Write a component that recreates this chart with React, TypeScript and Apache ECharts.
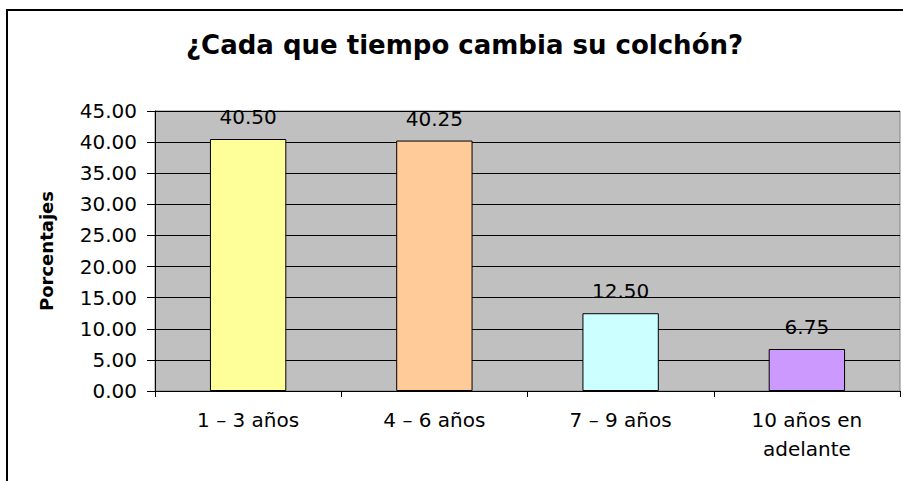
import React, { useEffect, useRef } from "react";
import * as echarts from "echarts";

const titleText = "¿Cada que tiempo cambia su colchón?";
const categories = ["1 – 3 años", "4 – 6 años", "7 – 9 años", "10 años en\nadelante"];
const values = [40.5, 40.25, 12.5, 6.75];
const barColors = ["#FFFF99", "#FFCC99", "#CCFFFF", "#CC99FF"];
const yAxisName = "Porcentajes";
const yMin = 0;
const yMax = 45;
const yInterval = 5;

export default function App() {
  const ref = useRef<HTMLDivElement>(null);
  useEffect(() => {
    document.body.style.margin = "0";
    const chart = echarts.init(ref.current!, null, { renderer: "svg" });
    const font = "DejaVu Sans";
    chart.setOption({
      animation: false,
      backgroundColor: "#FFFFFF",
      title: {
        text: titleText,
        left: 186,
        top: 29,
        padding: 0,
        textStyle: {
          fontFamily: font,
          fontWeight: "bold",
          fontSize: 26,
          lineHeight: 32,
          color: "#000",
        },
      },
      graphic: [
        {
          type: "rect",
          shape: { x: 7, y: 10, width: 905, height: 480 },
          style: { fill: "none", stroke: "#000", lineWidth: 2 },
          silent: true,
          z: -1,
        },
      ],
      grid: {
        left: 155,
        top: 111,
        right: 3,
        bottom: 90,
        show: true,
        backgroundColor: "#C0C0C0",
        borderColor: "#808080",
        borderWidth: 1,
      },
      xAxis: {
        type: "category",
        data: categories,
        axisLine: { lineStyle: { color: "#000", width: 1 } },
        axisTick: { show: true, length: 6, lineStyle: { color: "#000" } },
        axisLabel: {
          fontFamily: font,
          fontSize: 20,
          color: "#000",
          lineHeight: 29,
          margin: 14,
          interval: 0,
        },
      },
      yAxis: {
        type: "value",
        min: yMin,
        max: yMax,
        interval: yInterval,
        name: yAxisName,
        nameLocation: "middle",
        nameGap: 100,
        nameRotate: 90,
        nameTextStyle: {
          fontFamily: font,
          fontWeight: "bold",
          fontSize: 18,
          color: "#000",
        },
        axisLine: { show: true, lineStyle: { color: "#000", width: 1 } },
        axisTick: { show: true, length: 8, lineStyle: { color: "#000" } },
        axisLabel: {
          fontFamily: font,
          fontSize: 20,
          color: "#000",
          margin: 18,
          formatter: (v: number) => v.toFixed(2),
        },
        splitLine: { show: true, lineStyle: { color: "#000", width: 1 } },
      },
      series: [
        {
          type: "bar",
          data: values.map((v, i) => ({
            value: v,
            itemStyle: { color: barColors[i] },
          })),
          barWidth: "41%",
          itemStyle: { borderColor: "#000", borderWidth: 1 },
          label: {
            show: true,
            position: "top",
            distance: 12,
            fontFamily: font,
            fontSize: 20,
            color: "#000",
            formatter: (p: any) => Number(p.value).toFixed(2),
          },
        },
      ],
    });
    return () => chart.dispose();
  }, []);
  return <div ref={ref} style={{ width: 903, height: 481 }} />;
}
